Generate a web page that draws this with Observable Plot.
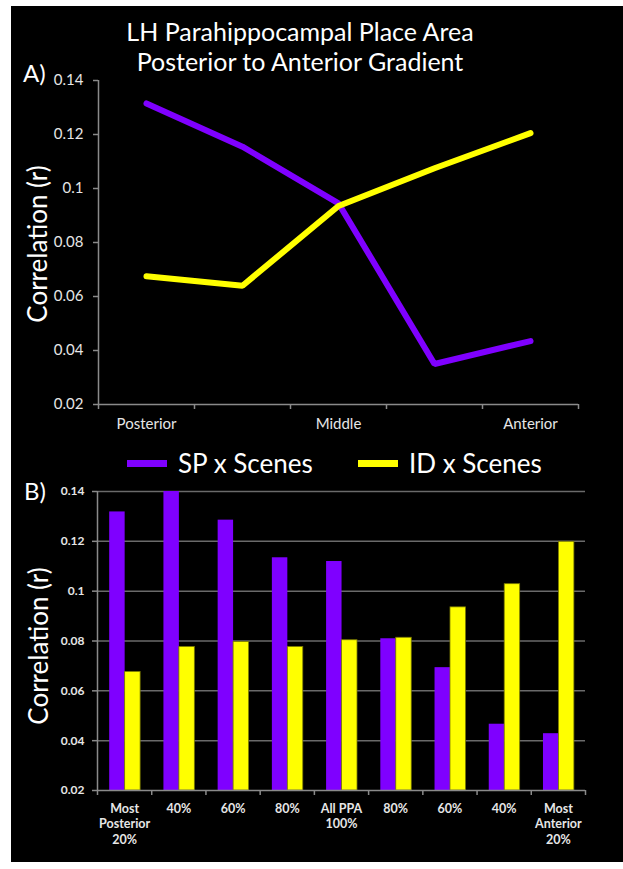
<!DOCTYPE html>
<html>
<head>
<meta charset="utf-8">
<script src="https://cdn.jsdelivr.net/npm/d3@7"></script>
<script src="https://cdn.jsdelivr.net/npm/@observablehq/plot@0.6"></script>
<style>
  html, body { margin: 0; padding: 0; background: #fff; }
  body { width: 623px; height: 869px; position: relative; overflow: hidden; font-family: Lato, "Open Sans", sans-serif; }
  #bg { position: absolute; left: 11px; top: 6px; width: 612px; height: 856px; background: #000; }
  .abs { position: absolute; color: #fff; white-space: nowrap; }
  #title { left: 0; width: 600px; top: 16px; text-align: center; font-size: 25px; line-height: 30px; }
  .panel { font-size: 24px; line-height: 30px; }
  .ylab { font-size: 26px; line-height: 30px; transform: translate(-50%, -50%) rotate(-90deg); }
  .legend { top: 448px; font-size: 26px; line-height: 30px; display: flex; align-items: center; }
  .sw { display: inline-block; width: 40px; height: 7px; margin-right: 11px; }
  svg [aria-label="y-axis tick"] path, svg [aria-label="x-axis tick"] path { stroke: #8a8a8a; stroke-width: 1.5; }
  svg [aria-label="y-axis tick"], svg [aria-label="x-axis tick"] { stroke: #8a8a8a; }
  #chartA, #chartB { position: absolute; left: 0; }
  #chartA { top: 70px; }
  #chartB { top: 481px; }
</style>
</head>
<body>
<div id="bg"></div>
<div id="title" class="abs">LH Parahippocampal Place Area<br>Posterior to Anterior Gradient</div>
<div class="abs panel" style="left:23px; top:58px;">A)</div>
<div class="abs ylab" style="left:37px; top:244px;">Correlation (r)</div>
<div class="abs legend" style="left:127px;"><span class="sw" style="background:#7f00ff"></span>SP x Scenes</div>
<div class="abs legend" style="left:358px;"><span class="sw" style="background:#ffff00"></span>ID x Scenes</div>
<div class="abs panel" style="left:24px; top:476px;">B)</div>
<div class="abs ylab" style="left:38px; top:646px;">Correlation (r)</div>
<div id="chartA"></div>
<div id="chartB"></div>
<script>
// ---------- Data ----------
const seriesNames = ["SP x Scenes", "ID x Scenes"];
const seriesColors = ["#7f00ff", "#ffff00"];
const yTicks = [0.02, 0.04, 0.06, 0.08, 0.1, 0.12, 0.14];

// Panel A: posterior-to-anterior gradient (5 positions)
const aPositions = ["Posterior", "", "Middle", "", "Anterior"];
const aSP = [0.1315, 0.1155, 0.0945, 0.035, 0.0435];
const aID = [0.0675, 0.064, 0.0935, 0.1075, 0.1205];

// Panel B: subregions (9 groups)
const bLabels = ["Most\nPosterior\n20%", "40%", "60%", "80%", "All PPA\n100%", "80%", "60%", "40%", "Most\nAnterior\n20%"];
const bSP = [0.1318, 0.14, 0.1285, 0.1134, 0.1119, 0.0809, 0.0693, 0.0466, 0.0428];
const bID = [0.0676, 0.0776, 0.0796, 0.0776, 0.0803, 0.0813, 0.0935, 0.1028, 0.1198];

// ---------- Panel A ----------
const aData = [];
aPositions.forEach((p, i) => {
  aData.push({i, series: seriesNames[0], value: aSP[i]});
  aData.push({i, series: seriesNames[1], value: aID[i]});
});

const axisGrey = "#8a8a8a";
const labelColor = "#e6e6e6";

const chartA = Plot.plot({
  width: 623, height: 370,
  marginLeft: 98, marginRight: 45, marginTop: 10, marginBottom: 36,
  style: {background: "transparent", color: labelColor, fontFamily: "Lato, 'Open Sans', sans-serif", fontSize: "15px", overflow: "visible"},
  x: {domain: [0, aPositions.length], ticks: d3.range(0, aPositions.length + 1), tickFormat: () => "", tickSize: 5, label: null},
  y: {domain: [yTicks[0], yTicks[yTicks.length - 1]], ticks: yTicks, tickFormat: d => String(d), tickSize: 5, tickPadding: 10, label: null},
  color: {domain: seriesNames, range: seriesColors},
  marks: [
    Plot.ruleX([0], {stroke: axisGrey, strokeWidth: 1.5}),
    Plot.ruleY([yTicks[0]], {stroke: axisGrey, strokeWidth: 1.5}),
    Plot.line(aData, {x: d => d.i + 0.5, y: "value", z: "series", stroke: "series", strokeWidth: 6, strokeLinejoin: "miter", strokeLinecap: "round"}),
    Plot.text(aPositions, {x: (d, i) => i + 0.5, text: d => d, frameAnchor: "bottom", lineAnchor: "top", dy: 14, fill: labelColor, fontSize: 15})
  ]
});
document.getElementById("chartA").appendChild(chartA);

// ---------- Panel B ----------
const bData = [];
bLabels.forEach((l, i) => {
  bData.push({i, series: seriesNames[0], value: bSP[i], k: 0});
  bData.push({i, series: seriesNames[1], value: bID[i], k: 1});
});
const barStart = 0.225, barW = 0.285;

const chartB = Plot.plot({
  width: 623, height: 370,
  marginLeft: 97, marginRight: 38, marginTop: 10, marginBottom: 61,
  style: {background: "transparent", color: labelColor, fontFamily: "Lato, 'Open Sans', sans-serif", fontSize: "12px", fontWeight: "bold", overflow: "visible"},
  x: {domain: [0, bLabels.length], ticks: d3.range(0, bLabels.length + 1), tickFormat: () => "", tickSize: 5, label: null},
  y: {domain: [yTicks[0], yTicks[yTicks.length - 1]], ticks: yTicks, tickFormat: d => String(d), tickSize: 5, tickPadding: 8, label: null},
  color: {domain: seriesNames, range: seriesColors},
  marks: [
    Plot.ruleY(yTicks.slice(1), {stroke: "#6a6a6a", strokeWidth: 1.5}),
    Plot.rectY(bData, {
      x1: d => d.i + barStart + d.k * barW,
      x2: d => d.i + barStart + (d.k + 1) * barW,
      y1: yTicks[0], y2: "value",
      fill: "series",
      stroke: d => d.k === 1 ? "#7a7a00" : "none", strokeWidth: 0.8
    }),
    Plot.ruleX([0], {stroke: axisGrey, strokeWidth: 1.5}),
    Plot.ruleY([yTicks[0]], {stroke: axisGrey, strokeWidth: 1.5}),
    Plot.text(bLabels, {x: (d, i) => i + 0.5, text: d => d, frameAnchor: "bottom", lineAnchor: "top", dy: 11, lineHeight: 1.25, fill: labelColor, fontSize: 12.5, fontWeight: "bold"})
  ]
});
document.getElementById("chartB").appendChild(chartB);
</script>
</body>
</html>
